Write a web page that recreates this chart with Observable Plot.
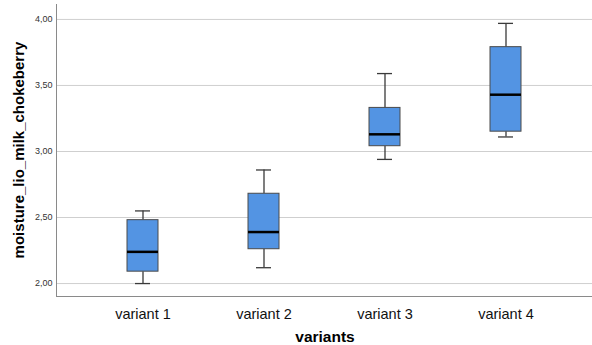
<!DOCTYPE html>
<html>
<head>
<meta charset="utf-8">
<script src="https://cdn.jsdelivr.net/npm/d3@7"></script>
<script src="https://cdn.jsdelivr.net/npm/@observablehq/plot@0.6"></script>
<style>
  html, body { margin: 0; padding: 0; background: #fff; }
  #chart svg { display: block; }
</style>
</head>
<body>
<div id="chart"></div>
<script>
const variants = ["variant 1", "variant 2", "variant 3", "variant 4"];
const whiskerLow = [2.00, 2.12, 2.94, 3.11];
const q1 = [2.09, 2.26, 3.04, 3.15];
const median = [2.24, 2.39, 3.13, 3.43];
const q3 = [2.48, 2.68, 3.33, 3.79];
const whiskerHigh = [2.55, 2.86, 3.59, 3.97];
const yTicks = [2.0, 2.5, 3.0, 3.5, 4.0];

const data = variants.map((v, i) => ({
  variant: v, lo: whiskerLow[i], q1: q1[i], med: median[i], q3: q3[i], hi: whiskerHigh[i]
}));

const fmt = d => d3.format(".2f")(d).replace(".", ",");

const plot = Plot.plot({
  width: 592,
  height: 345,
  marginLeft: 56,
  marginRight: 0,
  marginTop: 4,
  marginBottom: 49,
  style: { fontFamily: "'Liberation Sans', Arial, sans-serif", background: "#fff" },
  x: { type: "band", domain: variants, paddingInner: 0.745, paddingOuter: 0.58, label: null },
  y: { domain: [1.902, 4.113], label: null },
  marks: [
    Plot.gridY(yTicks, { stroke: "#cfcfcf", strokeOpacity: 1, strokeWidth: 1 }),
    Plot.frame({ anchor: "left", stroke: "#8a8a8a" }),
    Plot.frame({ anchor: "bottom", stroke: "#8a8a8a" }),
    Plot.axisY({ ticks: yTicks, tickFormat: fmt, tickSize: 0, tickPadding: 4, fontSize: 9, fill: "#333", label: null }),
    Plot.axisX({ tickSize: 0, tickPadding: 12, fontSize: 14.5, fill: "#111", label: null }),
    Plot.ruleX(data, { x: "variant", y1: "lo", y2: "q1", stroke: "#3a3a3a", strokeWidth: 1.3 }),
    Plot.ruleX(data, { x: "variant", y1: "q3", y2: "hi", stroke: "#3a3a3a", strokeWidth: 1.3 }),
    Plot.tickY(data, { x: "variant", y: "lo", stroke: "#3a3a3a", strokeWidth: 1.3, insetLeft: 8, insetRight: 8 }),
    Plot.tickY(data, { x: "variant", y: "hi", stroke: "#3a3a3a", strokeWidth: 1.3, insetLeft: 8, insetRight: 8 }),
    Plot.barY(data, { x: "variant", y1: "q1", y2: "q3", fill: "#5394e3", stroke: "#4a4a4a", strokeWidth: 1 }),
    Plot.tickY(data, { x: "variant", y: "med", stroke: "#000", strokeWidth: 2.5 })
  ]
});

const svg = d3.select(plot);
svg.append("text")
  .attr("transform", "translate(24,150) rotate(-90)")
  .attr("text-anchor", "middle")
  .attr("font-family", "'Liberation Sans', Arial, sans-serif")
  .attr("font-size", 15)
  .attr("font-weight", "bold")
  .attr("fill", "#000")
  .text("moisture_lio_milk_chokeberry");
svg.append("text")
  .attr("x", 325)
  .attr("y", 342)
  .attr("text-anchor", "middle")
  .attr("font-family", "'Liberation Sans', Arial, sans-serif")
  .attr("font-size", 15.5)
  .attr("font-weight", "bold")
  .attr("fill", "#000")
  .text("variants");

document.getElementById("chart").appendChild(plot);
</script>
</body>
</html>
